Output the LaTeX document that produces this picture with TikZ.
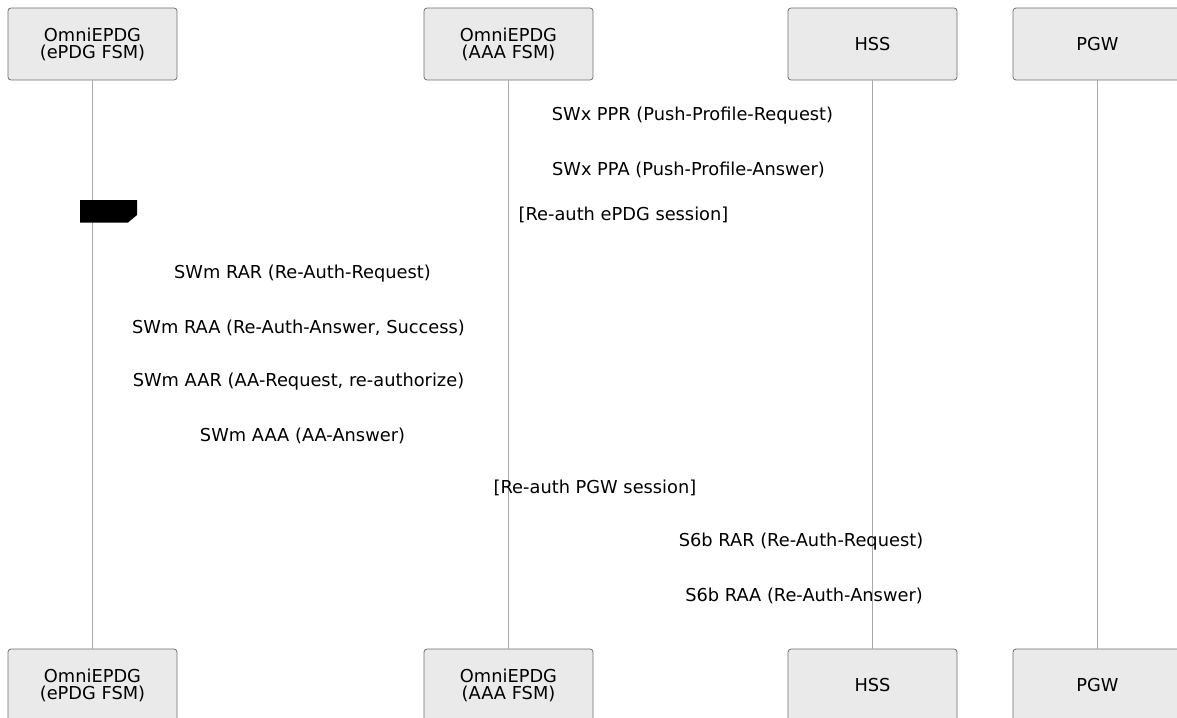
\documentclass[tikz,border=0pt]{standalone}
\usepackage{fontspec}
\setmainfont{DejaVu Sans}
\definecolor{actorFill}{HTML}{EAEAEA}
\definecolor{actorLine}{HTML}{6E6E6E}
\definecolor{lifeLine}{HTML}{A8A8A8}
\newcommand{\topY}{44}
\newcommand{\botY}{685}
\newcommand{\epdgX}{92.5}
\newcommand{\aaaX}{508.5}
\newcommand{\hssX}{872.5}
\newcommand{\pgwX}{1097.5}
\tikzset{
  actor/.style={draw=actorLine, fill=actorFill, rounded corners=3pt, line width=0.8pt,
    minimum width=169pt, minimum height=72pt, inner sep=0pt, align=center,
    font=\fontsize{17.8}{17}\selectfont},
  msg/.style={font=\fontsize{17.8}{19}\selectfont, inner sep=0pt}
}
\begin{document}
\begin{tikzpicture}[x=1pt,y=-1pt]
        \useasboundingbox (0,0) rectangle (1177,717);
        
        % Actors (top and bottom)
        \node[actor] (epdgTop) at (\epdgX,\topY) {OmniEPDG\\(ePDG FSM)};
        \node[actor] (aaaTop) at (\aaaX,\topY) {OmniEPDG\\(AAA FSM)};
        \node[actor] (hssTop) at (\hssX,\topY) {HSS};
        \node[actor] (pgwTop) at (\pgwX,\topY) {PGW};
        \node[actor] (epdgBot) at (\epdgX,\botY) {OmniEPDG\\(ePDG FSM)};
        \node[actor] (aaaBot) at (\aaaX,\botY) {OmniEPDG\\(AAA FSM)};
        \node[actor] (hssBot) at (\hssX,\botY) {HSS};
        \node[actor] (pgwBot) at (\pgwX,\botY) {PGW};
        
        % Lifelines
        \draw [lifeLine, line width=1pt] (epdgTop.south) -- (epdgBot.north);
        \draw [lifeLine, line width=1pt] (aaaTop.south) -- (aaaBot.north);
        \draw [lifeLine, line width=1pt] (hssTop.south) -- (hssBot.north);
        \draw [lifeLine, line width=1pt] (pgwTop.south) -- (pgwBot.north);
        
        % SWx messages
        \node[msg] (ppr) at (692.5,116) {SWx PPR (Push-Profile-Request)};
        \node[msg] (ppa) at (688.5,170) {SWx PPA (Push-Profile-Answer)};
        
        % ePDG re-auth section
        \fill [black] (80,200) -- (137,200) -- (137,215) -- (128,222.5) -- (80,222.5) -- cycle;
        \node[msg] (epdgSect) at (623.5,215) {[Re-auth ePDG session]};
        \node[msg] (swmRar) at (302.5,274) {SWm RAR (Re-Auth-Request)};
        \node[msg] (swmRaa) at (298.5,328) {SWm RAA (Re-Auth-Answer, Success)};
        \node[msg] (swmAar) at (298.5,382) {SWm AAR (AA-Request, re-authorize)};
        \node[msg] (swmAaa) at (302.5,436) {SWm AAA (AA-Answer)};
        
        % PGW re-auth section
        \node[msg] (pgwSect) at (595,488) {[Re-auth PGW session]};
        \node[msg] (s6bRar) at (801,542) {S6b RAR (Re-Auth-Request)};
        \node[msg] (s6bRaa) at (804,596) {S6b RAA (Re-Auth-Answer)};
    \end{tikzpicture}
\end{document}
